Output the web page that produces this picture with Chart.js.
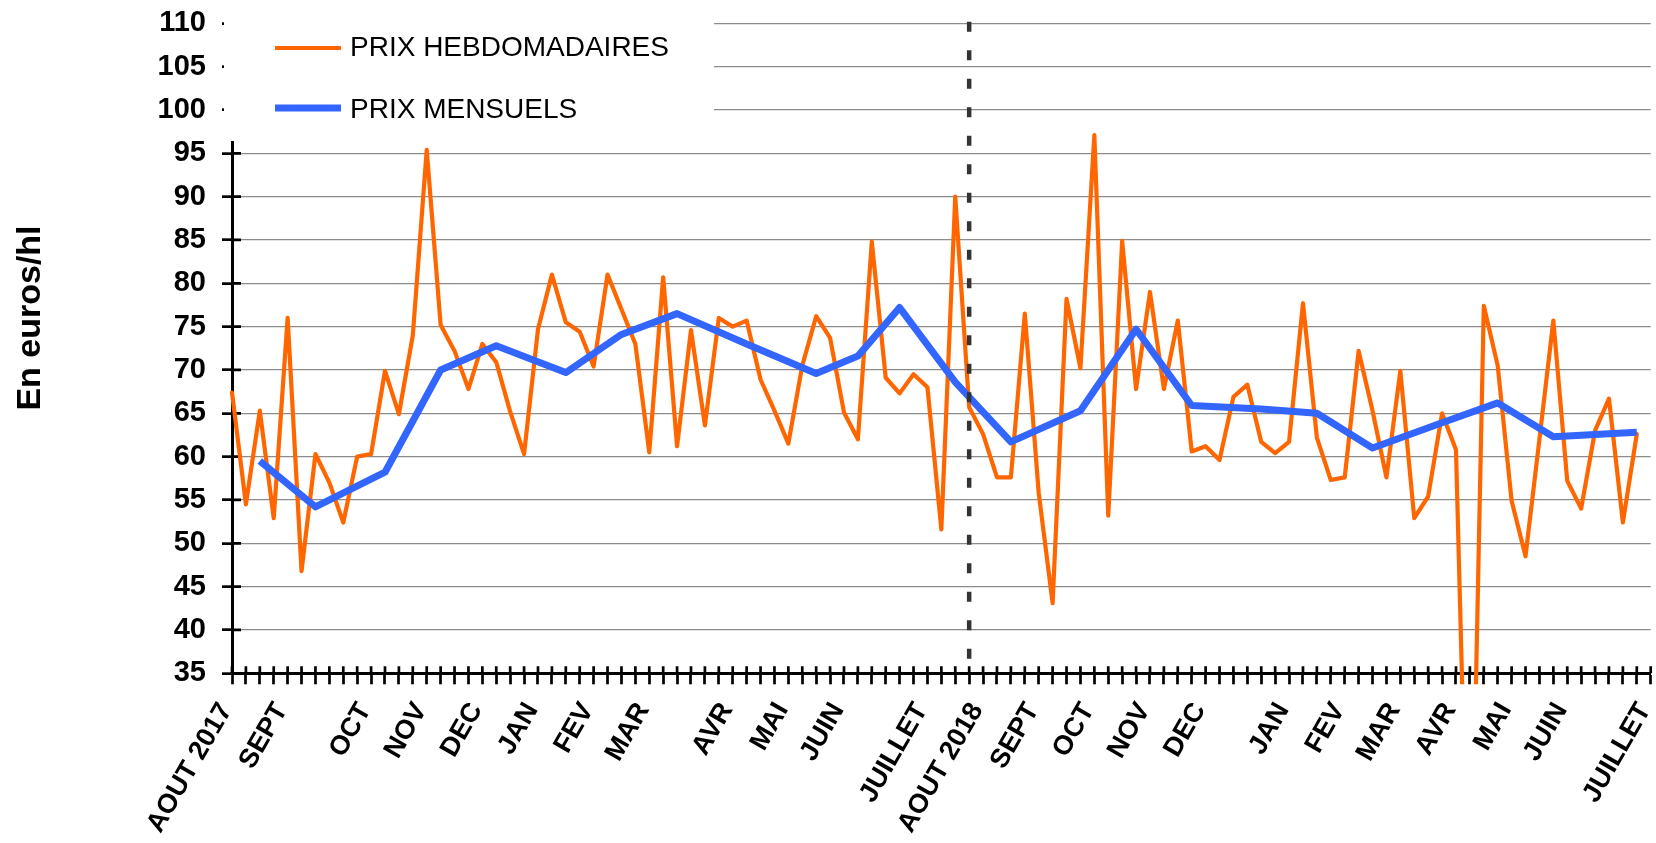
<!DOCTYPE html>
<html lang="fr">
<head>
<meta charset="utf-8">
<title>Prix hebdomadaires et mensuels</title>
<script src="https://cdn.jsdelivr.net/npm/chart.js@4.4.1/dist/chart.umd.min.js"></script>
<style>
  html, body { margin: 0; padding: 0; background: #fff; }
  #chart { display: block; }
</style>
</head>
<body>
<canvas id="chart" width="1656" height="843"></canvas>
<script>
// ── Data ─────────────────────────────────────────────────────────────────────

// one value per week, Aug 2017 -> Jul 2019 (euros/hl)
const weeklyPrices = [
  67.4, 54.5, 65.3, 52.9, 76.0, 46.8, 60.3, 57.0, 52.4, 60.0,
  60.3, 69.9, 64.9, 74.0, 95.4, 75.2, 72.2, 67.8, 73.0, 70.9,
  65.2, 60.3, 74.7, 81.0, 75.5, 74.4, 70.4, 81.0, 77.0, 73.0,
  60.5, 80.7, 61.2, 74.6, 63.6, 76.0, 75.0, 75.7, 68.9, 65.3,
  61.5, 70.5, 76.2, 73.7, 65.1, 62.0, 84.8, 69.1, 67.3, 69.5,
  68.0, 51.6, 90.0, 65.7, 62.6, 57.6, 57.6, 76.5, 55.8, 43.1,
  78.2, 70.2, 97.1, 53.2, 84.9, 67.8, 79.0, 67.8, 75.7, 60.6,
  61.2, 59.6, 66.9, 68.3, 61.7, 60.4, 61.7, 77.7, 62.2, 57.3,
  57.6, 72.2, 65.3, 57.6, 69.9, 52.9, 55.4, 65.0, 60.8, 0,
  77.4, 70.5, 54.9, 48.5, 62.0, 75.7, 57.2, 54.0, 63.0, 66.7,
  52.4, 62.6
];

// monthly averages, placed on the week where they are plotted
const monthlyWeek   = [2, 6, 11, 15, 19, 24, 28, 32, 37, 42, 45, 48,
                       52, 56, 61, 65, 69, 74, 78, 82, 87, 91, 95, 101];
const monthlyPrices = [59.5, 54.2, 58.2, 70.0, 72.8, 69.7, 74.1, 76.5, 73.0, 69.6, 71.6, 77.2,
                       68.6, 61.7, 65.3, 74.7, 65.9, 65.5, 65.0, 61.0, 63.9, 66.2, 62.3, 62.8];

// month names shown under the axis
const labelWeek = [0, 4, 10, 14, 18, 22, 26, 30, 36, 40, 44, 50,
                   54, 58, 62, 66, 70, 76, 80, 84, 88, 92, 96, 102];
const labelText = ['AOUT 2017', 'SEPT', 'OCT', 'NOV', 'DEC', 'JAN', 'FEV', 'MAR', 'AVR', 'MAI', 'JUIN', 'JUILLET',
                   'AOUT 2018', 'SEPT', 'OCT', 'NOV', 'DEC', 'JAN', 'FEV', 'MAR', 'AVR', 'MAI', 'JUIN', 'JUILLET'];

const weekCount     = 103;
const yearBreakWeek = 53;
const yMin = 35, yMax = 110, yStep = 5;

const seriesNames = ['PRIX HEBDOMADAIRES', 'PRIX MENSUELS'];
const yTitle      = 'En euros/hl';

// ── Build ────────────────────────────────────────────────────────────────────

const categories = Array.from({ length: weekCount }, (_, i) => {
  const k = labelWeek.indexOf(i);
  return k >= 0 ? labelText[k] : '';
});
const monthlySeries = categories.map((_, i) => {
  const k = monthlyWeek.indexOf(i);
  return k >= 0 ? monthlyPrices[k] : null;
});

const clr = { weekly: '#ff6600', monthly: '#3366ff', axis: '#000000', grid: '#8c8c8c', marker: '#333333' };
const FONT = '"Liberation Sans", Arial, sans-serif';
Chart.defaults.font.family = FONT;
Chart.defaults.color = '#000';

const lineClip = { left: 10, top: 10, right: 10, bottom: 11 };

// crossing ticks, year separator, legend box, axis title
const overlay = {
  id: 'overlay',
  beforeDatasetsDraw(chart) {
    const { ctx, chartArea: a, scales: { x, y } } = chart;
    ctx.save();
    ctx.strokeStyle = clr.axis;
    ctx.lineWidth = 2.7;
    ctx.beginPath();
    y.ticks.forEach((t, i) => {
      const py = y.getPixelForTick(i);
      ctx.moveTo(a.left, py); ctx.lineTo(a.left + 9, py);
    });
    x.ticks.forEach((t, i) => {
      const px = x.getPixelForTick(i);
      ctx.moveTo(px, a.bottom); ctx.lineTo(px, a.bottom - 7);
    });
    ctx.stroke();
    ctx.restore();
  },
  afterDatasetsDraw(chart) {
    const { ctx, chartArea: a, scales: { x } } = chart;
    const sx = x.getPixelForValue(yearBreakWeek);
    ctx.save();
    ctx.strokeStyle = clr.marker;
    ctx.lineWidth = 4.5;
    ctx.setLineDash([10, 18.5]);
    ctx.beginPath();
    ctx.moveTo(sx, a.top - 1.5);
    ctx.lineTo(sx, a.bottom);
    ctx.stroke();
    ctx.restore();
  },
  afterDraw(chart) {
    const { ctx, chartArea: a } = chart;
    ctx.save();
    // legend sits on a white box over the top-left of the plot
    ctx.fillStyle = '#fff';
    ctx.fillRect(a.left - 8, 0, 714 - (a.left - 8), 141);
    const rows = [48, 108];
    chart.data.datasets.forEach((ds, i) => {
      ctx.strokeStyle = ds.borderColor;
      ctx.lineWidth = i === 0 ? 4.2 : 7;
      ctx.beginPath();
      ctx.moveTo(275, rows[i]); ctx.lineTo(341, rows[i]);
      ctx.stroke();
      ctx.fillStyle = '#000';
      ctx.font = '28px ' + FONT;
      ctx.textBaseline = 'middle';
      ctx.textAlign = 'left';
      ctx.fillText(ds.label, 350, i === 0 ? 48 : 110);
    });
    // y axis title
    ctx.translate(31, 318);
    ctx.rotate(-Math.PI / 2);
    ctx.font = 'bold 34px ' + FONT;
    ctx.textAlign = 'center';
    ctx.fillText(yTitle, 0, 0);
    ctx.restore();
  }
};

new Chart(document.getElementById('chart'), {
  type: 'line',
  data: {
    labels: categories,
    datasets: [
      { label: seriesNames[0], data: weeklyPrices, borderColor: clr.weekly, borderWidth: 4.2,
        pointRadius: 0, tension: 0, borderJoinStyle: 'round', borderCapStyle: 'round',
        clip: lineClip, order: 2 },
      { label: seriesNames[1], data: monthlySeries, borderColor: clr.monthly, borderWidth: 7,
        pointRadius: 0, tension: 0, spanGaps: true, borderJoinStyle: 'round', borderCapStyle: 'butt',
        clip: lineClip, order: 1 }
    ]
  },
  options: {
    responsive: false,
    animation: false,
    devicePixelRatio: 1,
    layout: { padding: { top: 23.3, right: 5.3, left: 0, bottom: 0 } },
    plugins: { legend: { display: false }, tooltip: { enabled: false } },
    scales: {
      x: {
        type: 'category',
        offset: false,
        grid: { display: true, drawOnChartArea: false, drawTicks: true, tickLength: 11,
                tickColor: clr.axis, tickWidth: 2.7 },
        border: { display: true, color: clr.axis, width: 3 },
        ticks: { autoSkip: false, maxRotation: 60, minRotation: 60, padding: 13, labelOffset: -6,
                 font: { size: 27, weight: 'bold' } },
        afterFit(s) { s.height = 843 - 673.3; s.paddingLeft = 0; s.paddingRight = 0; }
      },
      y: {
        min: yMin, max: yMax,
        ticks: { stepSize: yStep, padding: 16, font: { size: 29, weight: 'bold' } },
        grid: { color: clr.grid, lineWidth: 1.3, tickLength: 10, tickColor: clr.axis, tickWidth: 2.7 },
        border: { display: true, color: clr.axis, width: 3 },
        afterFit(s) { s.width = 232; s.paddingTop = 0; s.paddingBottom = 0; }
      }
    }
  },
  plugins: [overlay]
});
</script>
</body>
</html>
